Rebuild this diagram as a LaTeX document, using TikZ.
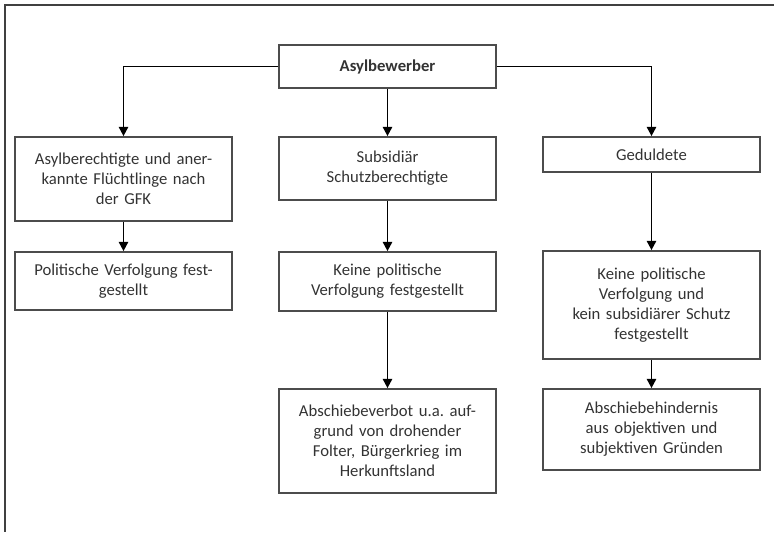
\documentclass[tikz,border=0pt]{standalone}
\usepackage{fontspec}
\setmainfont{Carlito}
\frenchspacing
\usetikzlibrary{arrows.meta}
\tikzset{
  box/.style={draw=black!70, line width=1.3pt, text=black!80, align=center,
    text width=155pt, minimum width=162.75pt, inner sep=0pt,
    font=\fontsize{12.5}{15}\selectfont},
  arr/.style={line width=1.4pt, -{Triangle[width=7pt,length=7pt]}}
}
\begin{document}
\begin{tikzpicture}[x=0.75pt, y=-0.75pt]
  \useasboundingbox (0,0) rectangle (774,532);
  \draw[black!75, line width=1.5pt] (774,5) -- (5,5) -- (5,532);
  \node[box, minimum height=32.25pt] (asyl) at (387.5,66.5) {\textbf{Asylbewerber}};
  \node[box, minimum height=63pt] (berecht) at (123.5,179) {Asylberechtigte und aner-\\kannte Flüchtlinge nach\\der GFK};
  \node[box, minimum height=43.5pt] (verfolgt) at (123.5,281) {Politische Verfolgung fest-\\gestellt};
  \node[box, minimum height=47.25pt] (subsid) at (387.5,168.5) {Subsidiär\\Schutzberechtigte};
  \node[box, minimum height=44.25pt] (keine) at (387.5,281.5) {Keine politische\\Verfolgung festgestellt};
  \node[box, minimum height=78pt] (verbot) at (387.5,441) {Abschiebeverbot u.a. auf-\\grund von drohender\\Folter, Bürgerkrieg im\\Herkunftsland};
  \node[box, minimum height=26.25pt] (geduld) at (651.5,154.5) {Geduldete};
  \node[box, minimum height=81pt] (keinschutz) at (651.5,305) {Keine politische\\Verfolgung und\\kein subsidiärer Schutz\\festgestellt};
  \node[box, minimum height=60.75pt] (hindernis) at (651.5,429.5) {Abschiebehindernis\\aus objektiven und\\subjektiven Gründen};
  \draw[arr] (asyl.west) -| (berecht.north);
  \draw[arr] (asyl) -- (subsid);
  \draw[arr] (asyl.east) -| (geduld.north);
  \draw[arr] (berecht) -- (verfolgt);
  \draw[arr] (subsid) -- (keine);
  \draw[arr] (keine) -- (verbot);
  \draw[arr] (geduld) -- (keinschutz);
  \draw[arr] (keinschutz) -- (hindernis);
\end{tikzpicture}
\end{document}
